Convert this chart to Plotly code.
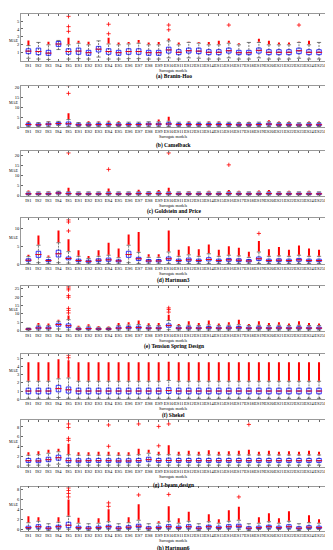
import plotly.graph_objects as go

categories = ["IS1", "IS2", "IS3", "IS4", "IS5"] + ["ES%d" % i for i in range(1, 27)]

# ---------------- (a) Branin-Hoo ----------------
q1_a = [0.88,0.75,0.67,1.8,0.8, 0.8,0.67,1.1,0.8,0.67,0.8,0.8,0.67,0.67,0.96, 0.75,0.96,0.88,0.75,0.75,0.96,0.75,0.75,0.96,0.75, 0.75,0.75,0.88,0.75,0.75,0.75]
med_a = [1.2,1.15,0.95,2.1,1.15, 1.2,1.0,1.45,1.15,1.0,1.15,1.15,1.0,1.0,1.35, 1.05,1.25,1.2,1.05,1.05,1.25,1.0,1.0,1.3,1.05, 1.05,1.05,1.25,1.05,1.05,1.05]
q3_a = [1.5,1.58,1.3,2.42,1.5, 1.58,1.3,1.8,1.5,1.3,1.5,1.5,1.3,1.3,1.7, 1.38,1.58,1.58,1.38,1.38,1.58,1.3,1.3,1.6,1.38, 1.38,1.38,1.58,1.38,1.38,1.38]
lo_a = [0.3,0.2,0.15,1.4,0.2, 0.25,0.2,0.45,0.2,0.2,0.25,0.25,0.2,0.2,0.35, 0.2,0.35,0.3,0.2,0.2,0.35,0.2,0.2,0.35,0.2, 0.2,0.2,0.3,0.2,0.2,0.2]
hi_a = [1.9,2.3,2.0,2.55,2.0, 2.2,2.0,2.5,2.1,2.0,2.1,2.2,2.0,2.0,2.5, 2.0,2.3,2.2,2.0,2.0,2.2,2.0,2.3,2.3,2.0, 2.0,2.0,2.3,2.0,2.3,2.0]
band_a = [2.55,0,2.4,0,2.9, 2.5,2.4,0,2.9,2.3,2.35,2.6,2.3,2.35,2.8, 2.3,2.35,2.35,2.35,2.5,2.5,2.2,0,2.75,2.5, 2.3,2.3,2.35,2.5,0,2.3]
out_a_cat = ["IS5", "IS5", "IS5", "ES4", "ES4", "ES10", "ES10", "ES16", "ES23"]
out_a_val = [3.7, 4.3, 5.6, 3.4, 4.6, 3.9, 4.5, 4.5, 4.5]

# ---------------- (b) Camelback ----------------
q1_b = [0.9,0.8,1.0,1.4,1.1, 0.8,0.8,0.9,0.9,0.8,0.9,0.9,1.0,1.0,1.1, 0.9,0.9,0.9,0.9,0.9,0.9,0.8,0.8,0.9,1.0, 0.8,0.8,0.7,0.8,0.8,0.8]
med_b = [1.3,1.2,1.5,1.8,1.7, 1.2,1.2,1.3,1.3,1.2,1.3,1.3,1.5,1.5,1.6, 1.3,1.3,1.3,1.3,1.3,1.3,1.2,1.2,1.3,1.5, 1.2,1.2,1.1,1.2,1.2,1.2]
q3_b = [1.8,1.7,2.0,2.3,2.6, 1.7,1.7,1.8,1.8,1.7,1.8,1.8,2.0,2.0,2.2, 1.8,1.8,1.8,1.8,1.8,1.8,1.7,1.7,1.8,2.0, 1.7,1.7,1.6,1.7,1.7,1.7]
lo_b = [0.3,0.3,0.3,0.8,0.3, 0.3,0.3,0.3,0.3,0.3,0.3,0.3,0.3,0.3,0.3, 0.3,0.3,0.3,0.3,0.3,0.3,0.3,0.3,0.3,0.3, 0.3,0.3,0.3,0.3,0.3,0.3]
hi_b = [2.4,2.3,2.7,2.9,3.8, 2.3,2.3,2.5,2.5,2.3,2.5,2.5,2.7,2.7,3.0, 2.5,2.5,2.5,2.5,2.5,2.5,2.3,2.3,2.5,2.7, 2.3,2.3,2.2,2.3,2.3,2.3]
band_b = [2.9,2.5,3.1,0,7.0, 2.6,3.0,2.9,3.2,3.0,2.7,2.8,3.0,3.8,5.2, 2.8,2.9,2.8,3.0,2.9,2.8,2.7,2.7,2.8,3.5, 2.8,2.8,2.5,2.8,2.8,2.8]
out_b_cat = ["IS5", "IS5"]
out_b_val = [17.0, 20.8]

# ---------------- (c) Goldstein and Price ----------------
q1_c = [0.6,0.6,0.6,0.9,0.7, 0.6,0.6,0.6,0.7,0.6,0.6,0.7,0.7,0.7,0.7, 0.6,0.6,0.6,0.6,0.6,0.7,0.6,0.6,0.6,0.7, 0.6,0.6,0.6,0.6,0.6,0.6]
med_c = [0.9,0.9,0.9,1.3,1.0, 0.9,0.9,0.9,1.0,0.9,0.9,1.0,1.0,1.0,1.0, 0.9,0.9,0.9,0.9,0.9,1.0,0.9,0.9,0.9,1.0, 0.9,0.9,0.9,0.9,0.9,0.9]
q3_c = [1.3,1.3,1.3,1.7,1.4, 1.3,1.3,1.3,1.4,1.3,1.3,1.4,1.4,1.4,1.4, 1.3,1.3,1.3,1.3,1.3,1.4,1.3,1.3,1.3,1.4, 1.3,1.3,1.3,1.3,1.3,1.3]
lo_c = [0.2,0.2,0.2,0.4,0.2, 0.2,0.2,0.2,0.2,0.2,0.2,0.2,0.2,0.2,0.2, 0.2,0.2,0.2,0.2,0.2,0.2,0.2,0.2,0.2,0.2, 0.2,0.2,0.2,0.2,0.2,0.2]
hi_c = [1.9,1.9,1.9,2.2,2.0, 1.9,1.9,1.9,2.0,1.9,1.9,2.0,2.0,2.0,2.0, 1.9,1.9,1.9,1.9,1.9,2.0,1.9,1.9,1.9,2.0, 1.9,1.9,1.9,1.9,1.9,1.9]
band_c = [2.6,0,2.3,0,4.0, 2.2,0,2.1,3.6,0,0,3.0,2.3,2.8,4.0, 0,2.3,0,2.5,2.2,2.8,2.4,0,2.6,2.8, 2.3,2.5,0,2.4,2.2,2.3]
out_c_cat = ["IS5", "ES4", "ES10", "ES16"]
out_c_val = [21.5, 13.2, 21.5, 15.5]

# ---------------- (d) Hartman3 ----------------
q1_d = [0.8,1.9,0.7,2.0,1.2, 0.7,0.5,0.7,0.8,0.6,1.9,1.0,0.6,0.6,1.0, 0.7,0.8,0.7,0.9,0.7,0.8,0.7,0.6,1.0,0.7, 0.7,0.7,0.8,0.7,0.7,0.8]
med_d = [1.1,2.7,1.0,2.9,1.6, 1.0,0.8,1.1,1.2,0.9,2.7,1.5,0.9,0.9,1.5, 1.0,1.2,1.0,1.3,1.0,1.2,1.1,0.9,1.5,1.0, 1.1,1.0,1.2,1.0,1.0,1.2]
q3_d = [1.5,3.6,1.3,3.9,2.0, 1.4,1.1,1.5,1.7,1.2,3.6,1.9,1.3,1.3,2.0, 1.4,1.7,1.4,1.8,1.4,1.6,1.5,1.3,2.0,1.4, 1.5,1.4,1.6,1.4,1.4,1.6]
lo_d = [0.2,0.4,0.2,0.4,0.3, 0.2,0.1,0.2,0.2,0.1,0.4,0.2,0.1,0.1,0.2, 0.2,0.2,0.2,0.2,0.2,0.2,0.2,0.1,0.2,0.2, 0.2,0.2,0.2,0.2,0.2,0.2]
hi_d = [2.1,5.3,1.9,6.0,3.5, 2.2,1.6,2.2,2.5,1.8,5.3,3.3,1.9,1.9,3.4, 2.2,2.6,2.2,2.9,2.2,2.5,2.3,1.9,3.4,2.2, 2.3,2.2,2.5,2.2,2.2,2.5]
band_d = [2.6,8.0,2.4,9.4,7.0, 3.9,2.3,3.9,6.0,4.4,8.3,9.0,2.8,2.8,9.4, 4.0,5.0,4.2,5.5,4.0,5.0,4.6,3.5,6.5,4.2, 4.8,4.0,5.2,4.4,4.0,5.0]
out_d_cat = ["IS5", "IS5", "IS5", "ES19"]
out_d_val = [9.3, 11.8, 12.4, 8.6]

# ---------------- (e) Tension Spring Design ----------------
q1_e = [0.6,1.0,1.0,2.6,1.8, 0.7,0.8,0.7,0.7,1.0,1.1,1.1,1.0,1.0,2.0, 1.0,1.0,1.0,1.1,1.0,1.0,1.1,1.0,1.0,1.0, 1.0,1.0,1.0,1.0,1.0,1.0]
med_e = [0.9,1.6,1.5,3.6,2.9, 1.0,1.2,1.0,1.0,1.5,1.7,1.8,1.5,1.5,3.0, 1.5,1.6,1.5,1.7,1.5,1.6,1.7,1.5,1.6,1.5, 1.6,1.5,1.6,1.5,1.5,1.6]
q3_e = [1.2,2.3,2.2,4.4,4.0, 1.4,1.7,1.4,1.3,2.2,2.4,2.6,2.1,2.1,4.0, 2.1,2.3,2.1,2.4,2.1,2.3,2.5,2.1,2.3,2.1, 2.3,2.1,2.3,2.1,2.1,2.3]
lo_e = [0.2,0.3,0.3,1.0,0.4, 0.2,0.2,0.2,0.2,0.3,0.3,0.3,0.3,0.3,0.5, 0.3,0.3,0.3,0.3,0.3,0.3,0.3,0.3,0.3,0.3, 0.3,0.3,0.3,0.3,0.3,0.3]
hi_e = [1.6,3.2,3.0,5.5,6.5, 2.0,2.6,2.0,1.9,3.1,3.3,3.6,3.0,3.0,6.0, 3.0,3.2,3.0,3.4,3.0,3.2,3.5,3.0,3.2,3.0, 3.2,3.0,3.2,3.0,3.0,3.2]
band_e = [2.0,4.5,4.3,6.5,9.0, 2.9,3.8,2.8,2.5,4.5,5.0,6.0,4.4,4.5,9.5, 4.0,5.5,4.5,6.0,4.2,5.0,6.5,4.0,5.5,4.5, 5.0,4.3,5.5,4.5,4.2,5.0]
out_e_cat = ["IS5"] * 8 + ["ES10"] * 3
out_e_val = [10.5, 12.0, 13.2, 19.8, 20.8, 24.2, 25.2, 26.0, 11.0, 12.5, 13.5]

# ---------------- (f) Shekel ----------------
q1_f = [0.65,0.65,0.65,0.9,0.75, 0.65,0.65,0.65,0.65,0.65,0.65,0.65,0.65,0.65,0.7, 0.65,0.65,0.65,0.65,0.65,0.65,0.65,0.65,0.65,0.65, 0.65,0.65,0.65,0.65,0.65,0.65]
med_f = [1.0,1.0,1.0,1.3,1.15, 1.0,1.0,1.0,1.0,1.0,1.0,1.0,1.0,1.0,1.05, 1.0,1.0,1.0,1.0,1.0,1.0,1.0,1.0,1.0,1.0, 1.0,1.0,1.0,1.0,1.0,1.0]
q3_f = [1.35,1.35,1.35,1.7,1.5, 1.35,1.35,1.35,1.35,1.35,1.35,1.35,1.35,1.35,1.4, 1.35,1.35,1.35,1.35,1.35,1.35,1.35,1.35,1.35,1.35, 1.35,1.35,1.35,1.35,1.35,1.35]
lo_f = [0.1,0.1,0.1,0.2,0.1, 0.1,0.1,0.1,0.1,0.1,0.1,0.1,0.1,0.1,0.1, 0.1,0.1,0.1,0.1,0.1,0.1,0.1,0.1,0.1,0.1, 0.1,0.1,0.1,0.1,0.1,0.1]
hi_f = [2.2,2.2,2.2,2.5,2.6, 2.2,2.2,2.2,2.2,2.2,2.2,2.2,2.2,2.2,2.3, 2.2,2.2,2.2,2.2,2.2,2.2,2.2,2.2,2.2,2.2, 2.2,2.2,2.2,2.2,2.2,2.2]
band_f = [4.55,4.55,4.55,4.9,4.8, 4.55,4.55,4.55,4.55,4.55,4.55,4.55,4.55,4.55,4.6, 4.55,4.55,4.55,4.55,4.55,4.55,4.55,4.55,4.55,4.55, 4.55,4.55,4.55,4.55,4.55,4.55]
out_f_cat = ["IS5", "IS5"]
out_f_val = [5.1, 5.4]

# ---------------- (g) I-beam design ----------------
q1_g = [0.85,0.8,1.0,1.3,0.8, 0.8,0.85,0.85,0.85,0.8,0.8,0.85,1.0,0.85,0.85, 0.85,0.85,0.85,0.85,0.85,0.85,0.85,0.85,0.85,0.85, 0.85,0.85,0.85,0.85,0.85,0.85]
med_g = [1.2,1.15,1.4,1.8,1.2, 1.15,1.2,1.2,1.2,1.15,1.15,1.2,1.4,1.2,1.25, 1.2,1.2,1.2,1.2,1.2,1.2,1.2,1.2,1.2,1.2, 1.2,1.2,1.2,1.2,1.2,1.2]
q3_g = [1.65,1.6,1.9,2.3,1.7, 1.6,1.6,1.65,1.6,1.6,1.6,1.65,1.9,1.65,1.7, 1.65,1.65,1.65,1.65,1.65,1.65,1.65,1.65,1.65,1.65, 1.65,1.65,1.65,1.65,1.65,1.65]
lo_g = [0.3,0.3,0.3,0.5,0.2, 0.3,0.3,0.3,0.3,0.3,0.3,0.3,0.3,0.3,0.3, 0.3,0.3,0.3,0.3,0.3,0.3,0.3,0.3,0.3,0.3, 0.3,0.3,0.3,0.3,0.3,0.3]
hi_g = [2.3,2.4,2.7,3.0,2.4, 2.3,2.3,2.3,2.3,2.3,2.3,2.4,2.7,2.4,2.4, 2.35,2.35,2.35,2.35,2.35,2.35,2.35,2.35,2.35,2.35, 2.35,2.35,2.35,2.35,2.35,2.35]
band_g = [2.9,3.1,3.4,3.6,4.6, 2.9,2.9,3.0,3.0,2.9,2.9,3.6,3.4,3.0,4.3, 3.0,3.2,3.0,3.3,3.0,3.1,3.2,3.4,3.0,3.2, 3.0,3.1,3.0,3.2,3.0,3.4]
out_g_cat = ["IS5", "IS5", "IS5", "IS5", "ES4", "ES4", "ES7", "ES9", "ES9", "ES10", "ES18"]
out_g_val = [5.3, 5.7, 7.9, 8.6, 4.1, 8.4, 8.6, 4.2, 8.1, 8.6, 8.5]

# ---------------- (h) Hartman6 ----------------
q1_h = [0.1,0.2,0.0,0.2,0.3, 0.1,0.0,0.1,0.2,0.0,0.1,0.3,0.0,0.1,0.2, 0.1,0.2,0.0,0.2,0.1,0.2,0.3,0.0,0.1,0.2, 0.1,0.2,0.0,0.1,0.1,0.2]
med_h = [0.3,0.5,0.2,0.5,0.8, 0.3,0.2,0.3,0.5,0.2,0.4,0.6,0.2,0.3,0.5, 0.3,0.5,0.2,0.5,0.3,0.5,0.6,0.2,0.3,0.5, 0.3,0.5,0.2,0.4,0.3,0.5]
q3_h = [0.6,0.9,0.5,0.8,1.4, 0.6,0.5,0.6,0.8,0.5,0.7,1.0,0.5,0.6,0.9, 0.6,0.9,0.5,0.8,0.6,0.9,1.0,0.5,0.6,0.8, 0.6,0.9,0.5,0.7,0.6,0.8]
lo_h = [0.0,0.0,-0.3,0.0,0.0, 0.0,-0.3,0.0,0.0,-0.3,0.0,0.0,-0.3,0.0,0.0, 0.0,0.0,-0.3,0.0,0.0,0.0,0.0,-0.3,0.0,0.0, 0.0,0.0,-0.3,0.0,0.0,0.0]
hi_h = [1.3,1.6,1.1,1.4,2.6, 1.2,1.1,1.2,1.5,1.1,1.3,1.8,1.1,1.2,1.6, 1.2,1.6,1.1,1.5,1.2,1.6,1.8,1.1,1.2,1.5, 1.2,1.6,1.1,1.3,1.2,1.5]
band_h = [2.6,2.4,0,2.4,6.0, 2.3,0,2.2,4.0,0,2.4,5.0,0,1.6,4.6, 2.2,3.5,0,3.0,2.0,3.8,4.5,0,2.4,3.2, 2.2,3.6,0,2.8,2.0,3.0]
out_h_cat = ["IS5", "IS5", "IS5", "IS5", "ES4", "ES4", "ES7", "ES10", "ES17"]
out_h_val = [6.5, 7.2, 7.8, 8.3, 4.6, 5.3, 6.9, 7.0, 6.5]

titles = ["(a) Branin-Hoo", "(b) Camelback", "(c) Goldstein and Price", "(d) Hartman3",
          "(e) Tension Spring Design", "(f) Shekel", "(g) I-beam design", "(h) Hartman6"]
y_ranges = [[0, 5.9], [0, 20.5], [0, 22.5], [0, 12.8], [0, 26.5], [0, 5.5], [0, 9.4], [-0.4, 8.6]]
y_ticks = [[1, 2, 3, 4, 5], [0, 5, 10, 15, 20], [0, 5, 10, 15, 20], [0, 5, 10],
           [0, 5, 10, 15, 20, 25], [0, 1, 2, 3, 4, 5], [0, 2, 4, 6, 8], [0, 2, 4, 6, 8]]

panels = [
    (q1_a, med_a, q3_a, lo_a, hi_a, band_a, out_a_cat, out_a_val),
    (q1_b, med_b, q3_b, lo_b, hi_b, band_b, out_b_cat, out_b_val),
    (q1_c, med_c, q3_c, lo_c, hi_c, band_c, out_c_cat, out_c_val),
    (q1_d, med_d, q3_d, lo_d, hi_d, band_d, out_d_cat, out_d_val),
    (q1_e, med_e, q3_e, lo_e, hi_e, band_e, out_e_cat, out_e_val),
    (q1_f, med_f, q3_f, lo_f, hi_f, band_f, out_f_cat, out_f_val),
    (q1_g, med_g, q3_g, lo_g, hi_g, band_g, out_g_cat, out_g_val),
    (q1_h, med_h, q3_h, lo_h, hi_h, band_h, out_h_cat, out_h_val),
]

# ---------------- layout geometry (pixels) ----------------
W, H = 333, 550
X0, X1 = 13, 327
panel_px = [(5, 52), (78, 119), (143, 188), (211, 257), (279, 324), (348, 393), (414, 461), (481, 526)]
xlab_px = [61.5, 128.5, 197.5, 266.5, 333.5, 402.5, 470.5, 535.5]
title_px = [68, 137, 204, 273, 340, 409, 480, 543.5]
mae_px = [32, 94, 163, 230, 303, 364, 436, 499]

FONT = "Liberation Serif"
RED = "#ff0000"
BLUE = "#0000ff"
DARK = "#222222"

fig = go.Figure()
layout = dict(width=W, height=H, margin=dict(l=0, r=0, t=0, b=0),
              paper_bgcolor="white", plot_bgcolor="white", showlegend=False,
              font=dict(family=FONT, size=5, color="black"), annotations=[])

pos = list(range(len(categories)))
idx = {c: i for i, c in enumerate(categories)}

for k, (q1, med, q3, lo, hi, band, oc, ov) in enumerate(panels):
    sfx = "" if k == 0 else str(k + 1)
    xa, ya = "x" + sfx, "y" + sfx

    wx, wy = [], []
    for i in pos:
        wx += [i, i, None]
        wy += [lo[i], hi[i], None]
    fig.add_trace(go.Scatter(x=wx, y=wy, mode="lines", xaxis=xa, yaxis=ya,
                             line=dict(color=DARK, width=0.6, dash="2px,1px"),
                             hoverinfo="skip"))
    fig.add_trace(go.Scatter(x=pos + pos, y=lo + hi, mode="markers", xaxis=xa, yaxis=ya,
                             marker=dict(symbol="line-ew-open", size=3, color=DARK,
                                         line=dict(color=DARK, width=0.6)),
                             hoverinfo="skip"))
    bx, by = [], []
    for i in pos:
        if band[i] > hi[i]:
            bx += [i, i, None]
            by += [hi[i] + 0.012 * (y_ranges[k][1] - y_ranges[k][0]), band[i], None]
    fig.add_trace(go.Scatter(x=bx, y=by, mode="lines", xaxis=xa, yaxis=ya,
                             line=dict(color=RED, width=2.0), hoverinfo="skip"))
    fig.add_trace(go.Box(x=pos, q1=q1, median=med, q3=q3, lowerfence=q1, upperfence=q3,
                         xaxis=xa, yaxis=ya, width=0.45, boxpoints=False,
                         line=dict(color=BLUE, width=0.8), fillcolor="rgba(0,0,0,0)",
                         whiskerwidth=0, hoverinfo="skip"))
    fig.add_trace(go.Scatter(x=pos, y=med, mode="markers", xaxis=xa, yaxis=ya,
                             marker=dict(symbol="line-ew-open", size=4.5, color=RED,
                                         line=dict(color=RED, width=0.9)),
                             hoverinfo="skip"))
    fig.add_trace(go.Scatter(x=[idx[c] for c in oc], y=ov, mode="markers", xaxis=xa, yaxis=ya,
                             marker=dict(symbol="cross-thin-open", size=3, color=RED,
                                         line=dict(color=RED, width=0.8)),
                             hoverinfo="skip"))

    top, bot = panel_px[k]
    axis_common = dict(showline=True, linecolor="#999999", linewidth=0.6, mirror="ticks",
                       ticks="inside", ticklen=2, tickwidth=0.5, tickcolor="#666666",
                       showgrid=False, zeroline=False,
                       tickfont=dict(family=FONT, size=4.5, color="black"))
    layout["xaxis" + sfx] = dict(axis_common, domain=[X0 / W, X1 / W], anchor=ya,
                                 range=[-0.75, 30.4], tickvals=pos, ticktext=categories,
                                 tickangle=0)
    layout["yaxis" + sfx] = dict(axis_common, domain=[1 - bot / H, 1 - top / H], anchor=xa,
                                 range=y_ranges[k], tickvals=y_ticks[k])
    layout["annotations"] += [
        dict(text="Surrogate models", x=0.5, y=1 - xlab_px[k] / H, xref="paper", yref="paper",
             showarrow=False, font=dict(family=FONT, size=4), xanchor="center", yanchor="middle"),
        dict(text="<b>" + titles[k] + "</b>", x=0.5, y=1 - title_px[k] / H, xref="paper",
             yref="paper", showarrow=False, font=dict(family=FONT, size=5.5),
             xanchor="center", yanchor="middle"),
        dict(text="MAE", x=5.5 / W, y=1 - mae_px[k] / H, xref="paper", yref="paper",
             showarrow=False, font=dict(family=FONT, size=4), xanchor="center", yanchor="middle"),
    ]

fig.update_layout(**layout)
fig.write_html("out.html")
